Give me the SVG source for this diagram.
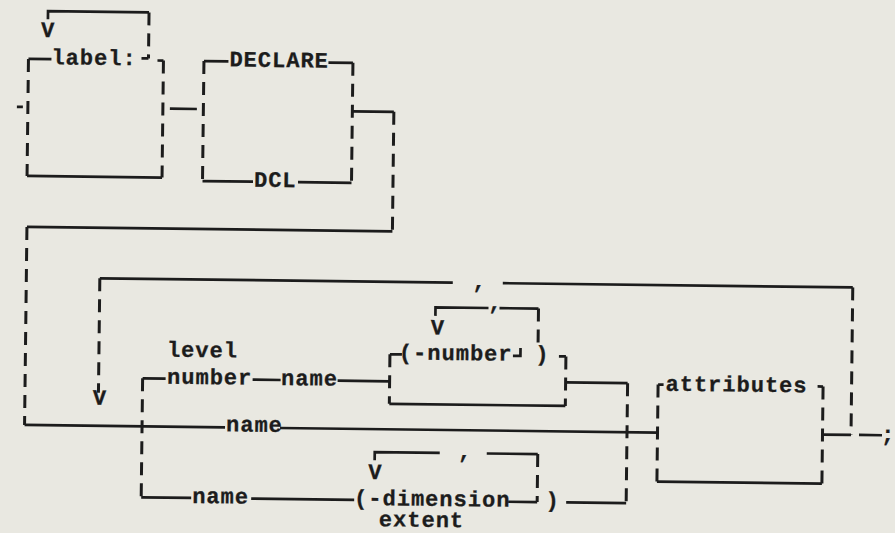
<svg xmlns="http://www.w3.org/2000/svg" width="895" height="533" viewBox="0 0 895 533">
<style>
.t{font-family:"Liberation Mono","Courier New",monospace;font-weight:bold;font-size:22px;letter-spacing:1px;fill:#1c1c1c;stroke:#1c1c1c;stroke-width:0.3}
.m{text-anchor:middle;letter-spacing:0}
.h{fill:none;stroke:#1c1c1c;stroke-width:2.7}
.v{fill:none;stroke:#1c1c1c;stroke-width:3;stroke-dasharray:13 8}
</style>
<rect width="895" height="533" fill="#e9e8e1"/>
<g transform="rotate(0.69 447 266)">
<g id="connectors">
<path class="h" d="M15,112H21 M45,24V16H146 M146,62H139 M49,64H26 M26,181H161 M161,64H155 M168,112H195 M226,64H201.5 M326,64H350.5 M201.5,184H252 M297,184H350.5 M350.5,112.5H392 M392,232H26.5 M100,282.5H453 M503,282.5H853 M436,316V307.5H489 M500,307.5H539 M514,355H521.5V347 M403,355H391 M391,404.5H567 M567,355H560 M167,382H144 M254,382H282 M339,382H391 M567,381H629 M26.5,430H227 M282,430H659.5 M144,501H194 M254,501H357 M377,461V453H442 M489,453H540 M540,501H511 M569,501H629 M665,382H659.5 M659.5,479H824.5 M824.5,382H819 M824.5,430H853 M861,430H884"/>
<path class="v" d="M146,16V62 M26,64V181 M161,64V181 M201.5,64V184 M350.5,64V184 M392,112.5V232 M26.5,232V430 M100,282.5V397 M853,282.5V430 M539,307.5V343 M391,355V404.5 M567,355V404.5 M144,382V501 M629,381V501 M540,453V501 M659.5,382V479 M824.5,382V479"/>
</g>
<g id="loop-label"><text class="t m" x="45" y="42">V</text></g>
<g id="loop-main"><text class="t m" x="101" y="409">V</text><text class="t m" x="479.3" y="288">,</text></g>
<g id="loop-number"><text class="t m" x="438.3" y="334.6">V</text><text class="t m" x="495.3" y="309">,</text></g>
<g id="loop-dimension"><text class="t m" x="377.5" y="480">V</text><text class="t m" x="467" y="458">,</text></g>
<g id="n-label"><text class="t" x="49" y="69">label:</text></g>
<g id="n-declare"><text class="t" x="227" y="69">DECLARE</text></g>
<g id="n-dcl"><text class="t" x="253" y="189">DCL</text></g>
<g id="n-level-number"><text class="t" x="168" y="360">level</text><text class="t" x="168.5" y="387">number</text></g>
<g id="n-name-1"><text class="t" x="282.5" y="387">name</text></g>
<g id="n-number"><text class="t" x="400" y="360">(-number</text><text class="t" x="536.5" y="360">)</text></g>
<g id="n-name-2"><text class="t" x="228" y="434">name</text></g>
<g id="n-name-3"><text class="t" x="195" y="506">name</text></g>
<g id="n-dimension"><text class="t" x="357" y="506">(-dimension</text><text class="t" x="548.5" y="506">)</text><text class="t" x="382" y="527">extent</text></g>
<g id="n-attributes"><text class="t" x="667" y="388">attributes</text></g>
<g id="n-end"><text class="t" x="883" y="436">;</text></g>
</g>
</svg>
